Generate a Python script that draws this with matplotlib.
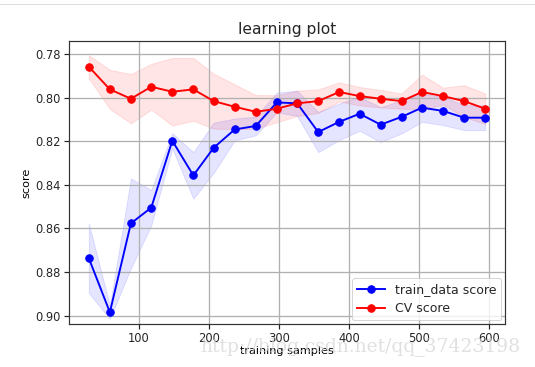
import matplotlib
matplotlib.use('Agg')
import matplotlib.pyplot as plt
import numpy as np

# training set sizes used by learning_curve
train_sizes = [29, 59, 89, 118, 148, 178, 207, 237, 267, 297,
               326, 356, 386, 415, 445, 475, 504, 534, 564, 594]

train_mean = [0.8737, 0.8985, 0.8577, 0.8505, 0.8198, 0.8357, 0.8230, 0.8146, 0.8130, 0.8022,
              0.8026, 0.8158, 0.8111, 0.8074, 0.8124, 0.8088, 0.8046, 0.8061, 0.8092, 0.8092]
train_std = [0.0160, 0.0030, 0.0206, 0.0081, 0.0035, 0.0107, 0.0115, 0.0050, 0.0043, 0.0045,
             0.0058, 0.0092, 0.0084, 0.0078, 0.0080, 0.0076, 0.0065, 0.0065, 0.0057, 0.0057]

cv_mean = [0.7858, 0.7962, 0.8005, 0.7950, 0.7973, 0.7962, 0.8016, 0.8042, 0.8065, 0.8051,
           0.8026, 0.8016, 0.7974, 0.7993, 0.8005, 0.8016, 0.7974, 0.7993, 0.8016, 0.8051]
cv_std = [0.0053, 0.0090, 0.0113, 0.0105, 0.0155, 0.0144, 0.0126, 0.0103, 0.0077, 0.0062,
          0.0058, 0.0054, 0.0044, 0.0042, 0.0040, 0.0035, 0.0080, 0.0039, 0.0073, 0.0070]

x = np.array(train_sizes)
tm = np.array(train_mean)
ts = np.array(train_std)
cm = np.array(cv_mean)
cs = np.array(cv_std)

plt.rcParams['font.size'] = 11.5
plt.rcParams['text.color'] = '#262626'
plt.rcParams['xtick.color'] = '#262626'
plt.rcParams['ytick.color'] = '#262626'
fig = plt.figure(figsize=(535/72., 367/72.), dpi=72)
ax = fig.add_axes([69/535., 1 - 324/367., (505-69)/535., (324-41)/367.])

ax.fill_between(x, tm - ts, tm + ts, alpha=0.1, color='b')
ax.fill_between(x, cm - cs, cm + cs, alpha=0.1, color='r')
ax.plot(x, tm, 'o-', color='b', label='train_data score', markersize=7.5, linewidth=1.9)
ax.plot(x, cm, 'o-', color='r', label='CV score', markersize=7.5, linewidth=1.9)

ax.set_xlim(0.75, 622.25)
ax.set_ylim(0.9039, 0.774)
ax.set_yticks([0.78, 0.80, 0.82, 0.84, 0.86, 0.88, 0.90])
ax.tick_params(labelsize=11.5, width=1.2, length=5)
ax.set_title('learning plot', fontsize=15.5, pad=7)
ax.set_xlabel('training samples', fontsize=11.3, labelpad=1)
ax.set_ylabel('score', fontsize=11.3)
ax.grid(color='#b0b0b0', linewidth=1.3)
for s in ax.spines.values():
    s.set_linewidth(1.2)
    s.set_color('#333333')
ax.legend(loc='best', fontsize=12.5, borderaxespad=0.3, handlelength=2.2)

# notebook frame line and watermark from the screenshot
fig.add_artist(plt.Line2D([0, 1], [1 - 4/367., 1 - 4/367.], color='#dddddd', linewidth=1))
fig.text(200/535., 1 - 347/367., 'http://blog.csdn.net/qq_37423198', family='DejaVu Serif',
         fontsize=18.8, color='#d4d4d4', alpha=0.7, va='center')

plt.savefig('out.png', dpi=72)
